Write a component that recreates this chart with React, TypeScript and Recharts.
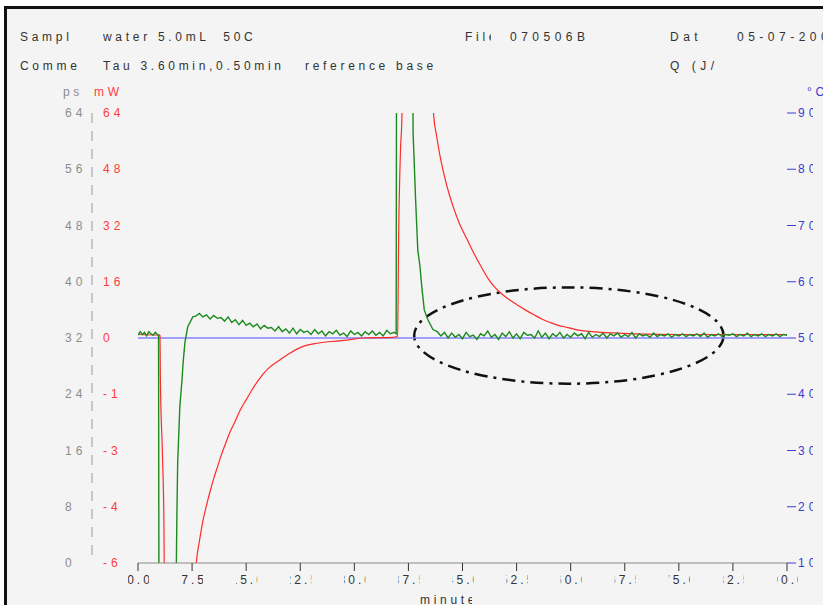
import React from "react";
import { LineChart, Line, XAxis, YAxis, ReferenceArea } from "recharts";

const FONT = "'Liberation Sans', Arial, sans-serif";

// axes
const xTicks = [0, 7.5, 15, 22.5, 30, 37.5, 45, 52.5, 60, 67.5, 75, 82.5, 90];
const psTicks = [0, 8, 16, 24, 32, 40, 48, 56, 64];
const mwLabels = ["-6", "-4", "-3", "-1", "0", "16", "32", "48", "64"];
const cTicks = [10, 20, 30, 40, 50, 60, 70, 80, 90];

// blue: temperature (°C axis)
const blueMin = [0, 90];
const blueC = [50, 50];

// red: heat flow (mW axis, drawn on the same 0..64 grid)
const redMin = [
  0, 3.0, 3.05, 3.1, 3.4, 3.6, 3.65, 8.0, 8.05, 8.5, 9.0, 9.5, 10.0, 10.5, 11.0, 11.5,
  12.0, 12.7, 13.5, 14.2, 15.0, 15.8, 16.7, 18.0, 19.7, 21.0, 22.9, 24.5, 26.7, 29.0,
  31.25, 35.4, 36.0, 36.15, 36.4, 36.6, 36.7, 40.8, 41.0, 41.4, 41.9, 42.5, 43.2, 43.8,
  44.6, 45.65, 46.5, 47.5, 48.65, 49.5, 50.3, 51.4, 52.6, 53.7, 54.9, 56.0, 57.2, 58.3,
  59.5, 60.7, 61.85, 63.0, 64.2, 66.5, 68.75, 75, 90,
];
const redVal = [
  32.5, 32.4, 32.3, 26.3, 15.1, 5.2, -2, -2, -0.5, 3.0, 6.0, 8.2, 10.2, 12.0, 13.6, 15.2,
  16.6, 18.5, 20.2, 21.8, 23.2, 24.6, 26.0, 27.6, 28.9, 29.8, 30.8, 31.2, 31.5, 31.7,
  32.0, 32.1, 32.3, 46.9, 58.7, 63.5, 70, 70, 63.7, 60.8, 57.8, 55.0, 52.3, 50.4,
  48.2, 46.0, 44.2, 42.3, 40.3, 39.2, 38.4, 37.5, 36.7, 36.0, 35.3, 34.7, 34.2, 33.8,
  33.5, 33.2, 33.0, 32.9, 32.8, 32.7, 32.6, 32.5, 32.5,
];

// green: ps signal, irregular parts
const greenHeadMin = [0, 0.3, 0.6, 0.9, 1.2, 1.5, 1.8, 2.1, 2.4, 2.7, 2.85, 2.9, 5.3, 5.4, 5.5, 5.8, 6.1, 6.25, 6.5, 6.9, 7.6];
const greenHeadVal = [32.4, 32.9, 32.5, 32.8, 32.3, 32.9, 32.6, 32.4, 32.8, 32.5, 32.4, -2, -2, 7.5, 14.2, 22.2, 26.0, 28.4, 31.3, 33.6, 35.0];

// slow decay after the first step, every 0.5 min from 8.0
const greenSlope = [
  35.1, 35.5, 35.0, 35.3, 34.7, 35.2, 34.8, 34.9, 34.4, 35.0, 34.2, 34.6, 33.9, 34.5,
  33.8, 34.1, 33.6, 34.0, 33.3, 33.8, 33.4, 33.5, 33.0, 33.6, 32.9, 33.3, 32.7, 33.4,
  32.6, 33.2, 32.8, 33.0, 32.5, 33.2, 32.6, 33.0, 32.3, 32.9, 32.6, 33.1, 32.4, 32.7,
  32.2, 33.0, 32.5, 32.8, 32.3, 32.9, 32.5, 33.0, 32.4, 32.8, 32.3, 33.1, 32.6, 32.8,
];

const greenSpikeMin = [35.8, 35.85, 38.1, 38.15, 38.5, 38.8, 39.1, 39.4, 39.7, 40.2, 40.9, 41.5, 42.0, 42.5];
const greenSpikeVal = [32.6, 70, 70, 61.1, 51.6, 44.5, 42.2, 38.8, 36.0, 34.6, 33.2, 32.9, 32.3, 32.8];

// baseline noise, every 0.5 min from 43.0
const greenTail = [
  32.0, 32.7, 32.1, 32.5, 31.9, 32.8, 32.2, 32.4, 31.8, 32.6, 32.3, 33.0, 32.1, 32.5,
  31.8, 32.7, 32.2, 32.9, 32.0, 32.6, 31.9, 32.8, 32.4, 32.5, 32.0, 33.0, 32.1, 32.7,
  31.9, 32.6, 32.2, 32.8, 32.0, 32.5, 32.1, 32.7, 32.3, 32.6, 31.9, 32.8, 32.1, 32.5,
  32.2, 32.7, 32.0, 32.6, 32.3, 32.7, 32.1, 32.5, 32.2, 32.8, 32.0, 32.6, 32.3, 32.5,
  32.1, 32.7, 32.2, 32.5, 32.3, 32.6, 32.1, 32.5, 32.3, 32.6, 32.2, 32.5, 32.3, 32.6,
  32.2, 32.7, 32.1, 32.5, 32.3, 32.6, 32.2, 32.5, 32.4, 32.6, 32.2, 32.5, 32.3, 32.7,
  32.2, 32.5, 32.3, 32.6, 32.2, 32.5, 32.3, 32.6, 32.2, 32.5, 32.4,
];

// annotation ellipse bounds (min / ps units)
const ellipseMin = [38.3, 81.2];
const ellipsePs = [25.5, 39.2];

const pairs = (xs: number[], ys: number[]) => xs.map((m, i) => ({ min: m, v: ys[i] }));
const stepped = (start: number, ys: number[]) => ys.map((v, i) => ({ min: start + i * 0.5, v }));

const blueData = pairs(blueMin, blueC);
const redData = pairs(redMin, redVal);
const greenData = [
  ...pairs(greenHeadMin, greenHeadVal),
  ...stepped(8.0, greenSlope),
  ...pairs(greenSpikeMin, greenSpikeVal),
  ...stepped(43.0, greenTail),
];

const txt: React.CSSProperties = {
  position: "absolute",
  fontFamily: FONT,
  fontSize: 12,
  lineHeight: "16px",
  whiteSpace: "pre",
  overflow: "hidden",
};

function Label({ x, y, w, color, ls, children }: any) {
  return (
    <div style={{ ...txt, left: x, top: y - 8, width: w, color: color || "#333", letterSpacing: ls ?? 3.7 }}>
      {children}
    </div>
  );
}

const PsTick = (p: any) => (
  <text x={65} y={p.y} dy={4} fill="#8c8c8c" fontSize={12} letterSpacing={4} fontFamily={FONT}>
    {p.payload.value}
  </text>
);

const MwTick = (p: any) => (
  <text x={103} y={p.y} dy={4} fill="#ff3c3c" fontSize={12} letterSpacing={4} fontFamily={FONT}>
    {mwLabels[psTicks.indexOf(p.payload.value)]}
  </text>
);

const CTick = (p: any) => (
  <svg x={798} y={p.y - 9} width={15} height={18} overflow="hidden">
    <text x={0} y={13} fill="#3c3cd2" fontSize={12} letterSpacing={4} fontFamily={FONT}>
      {p.payload.value}
    </text>
  </svg>
);

const XTick = (p: any) => (
  <svg x={p.x - 10} y={572} width={21} height={16} overflow="hidden">
    <text x={12} y={12} textAnchor="middle" fill="#333" fontSize={12} letterSpacing={3} fontFamily={FONT}>
      {Number(p.payload.value).toFixed(1)}
    </text>
  </svg>
);

const EllipseShape = (p: any) => (
  <ellipse
    cx={p.x + p.width / 2}
    cy={p.y + p.height / 2}
    rx={Math.abs(p.width) / 2}
    ry={Math.abs(p.height) / 2}
    fill="none"
    stroke="#111"
    strokeWidth={2.5}
    strokeDasharray="13 6 3 6"
  />
);

export default function App() {
  return (
    <div style={{ position: "fixed", left: 0, top: 0, width: 823, height: 605, overflow: "hidden", background: "#fff" }}>
      <div
        style={{
          position: "absolute",
          left: 4,
          top: 6,
          width: 840,
          height: 620,
          border: "3px solid #111",
          background: "#f4f4f4",
        }}
      />
      <Label x={20} y={37} w={52}>Sampl</Label>
      <Label x={103} y={37}>water 5.0mL  50C</Label>
      <Label x={465} y={37} w={26}>File</Label>
      <Label x={510} y={37} ls={4.5}>070506B</Label>
      <Label x={670} y={37} ls={4.5}>Dat</Label>
      <Label x={737} y={37} ls={4.5}>05-07-2007</Label>
      <Label x={20} y={66} w={70}>Comme</Label>
      <Label x={103} y={66}>Tau 3.60min,0.50min</Label>
      <Label x={305} y={66}>reference base</Label>
      <Label x={670} y={66} ls={4.5}>Q (J/</Label>
      <Label x={63} y={92} color="#8c8c8c">ps</Label>
      <Label x={94} y={92} color="#ff3c3c">mW</Label>
      <Label x={807} y={92} color="#3c3cd2">°C</Label>
      <Label x={420} y={600} w={52}>minute</Label>

      <div style={{ position: "absolute", left: 0, top: 0 }}>
        <LineChart width={823} height={605} margin={{ top: 113, right: 0, bottom: 0, left: 0 }}>
          <XAxis
            dataKey="min"
            type="number"
            domain={[0, 90]}
            ticks={xTicks}
            allowDataOverflow
            height={42}
            axisLine={{ stroke: "#8a8a8a" }}
            tickLine={{ stroke: "#333" }}
            tickSize={8}
            tick={<XTick />}
          />
          <YAxis
            yAxisId="mw"
            width={46}
            domain={[0, 64]}
            ticks={psTicks}
            allowDataOverflow
            axisLine={false}
            tickLine={false}
            tick={<MwTick />}
          />
          <YAxis
            yAxisId="ps"
            width={92}
            domain={[0, 64]}
            ticks={psTicks}
            allowDataOverflow
            axisLine={{ stroke: "#999", strokeDasharray: "10 8" }}
            tickLine={false}
            tick={<PsTick />}
          />
          <YAxis
            yAxisId="c"
            orientation="right"
            width={36}
            domain={[10, 90]}
            ticks={cTicks}
            allowDataOverflow
            axisLine={false}
            tickLine={{ stroke: "#3c3cd2" }}
            tickSize={9}
            tick={<CTick />}
          />
          <Line
            yAxisId="c"
            data={blueData}
            dataKey="v"
            stroke="#8585ff"
            strokeWidth={1.5}
            dot={false}
            isAnimationActive={false}
          />
          <Line
            yAxisId="mw"
            type="monotone"
            data={redData}
            dataKey="v"
            stroke="#ff2a2a"
            strokeWidth={1.2}
            dot={false}
            isAnimationActive={false}
          />
          <Line
            yAxisId="ps"
            data={greenData}
            dataKey="v"
            stroke="#1c8a1c"
            strokeWidth={1.4}
            dot={false}
            isAnimationActive={false}
          />
          <ReferenceArea
            yAxisId="ps"
            x1={ellipseMin[0]}
            x2={ellipseMin[1]}
            y1={ellipsePs[0]}
            y2={ellipsePs[1]}
            shape={<EllipseShape />}
          />
        </LineChart>
      </div>
    </div>
  );
}
